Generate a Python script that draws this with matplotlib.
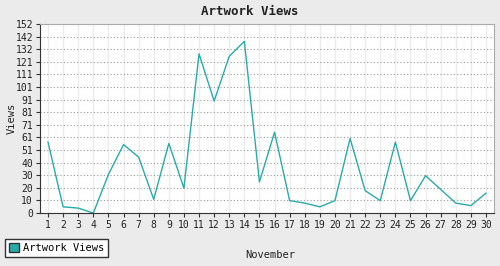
import matplotlib
matplotlib.use("Agg")
import matplotlib.pyplot as plt
from matplotlib.patches import Patch

days = list(range(1, 31))
views = [57, 5, 4, 0, 31, 55, 45, 11, 56, 20,
         128, 90, 126, 138, 25, 65, 10, 8, 5, 10,
         60, 18, 10, 57, 10, 30, 19, 8, 6, 16]
ymax = 152
ytick_labels = ["0", "10", "20", "30", "40", "51", "61", "71", "81", "91",
                "101", "111", "121", "132", "142", "152"]

line_color = "#2aabab"
bg = "#ebebeb"
plt.rcParams["font.family"] = "DejaVu Sans Mono"

fig = plt.figure(figsize=(5, 2.66), dpi=100, facecolor=bg)
ax = fig.add_axes([0.08, 0.199, 0.908, 0.711])
ax.set_facecolor("white")
ax.plot(days, views, color=line_color, linewidth=1.0)

yticks = [ymax * i / 15 for i in range(16)]
ax.set_yticks(yticks)
ax.set_yticklabels(ytick_labels, fontsize=7)
ax.set_xticks(days)
ax.set_xticklabels([str(d) for d in days], fontsize=7)
ax.set_xlim(0.47, 30.53)
ax.set_ylim(0, ymax)

ax.grid(axis="x", color="#ececec", linewidth=1, linestyle="-")
ax.grid(axis="y", color="#999999", linewidth=0.8, linestyle=(0, (1, 2)))
ax.set_axisbelow(True)

for s in ["top", "right"]:
    ax.spines[s].set_color("#aaaaaa")
for s in ["left", "bottom"]:
    ax.spines[s].set_color("#333333")
ax.tick_params(axis="both", length=3, width=0.8, color="#333333", pad=2, labelcolor="#222222")

fig.text(0.5, 0.955, "Artwork Views", ha="center", va="center", fontsize=9,
         fontweight="bold", color="#222222")
fig.text(0.024, 0.555, "Views", ha="center", va="center", rotation=90,
         fontsize=7.5, color="#222222")
fig.text(0.54, 0.04, "November", ha="center", va="center", fontsize=7.5, color="#222222")

handle = Patch(facecolor=line_color, edgecolor="#333333", label="Artwork Views")
fig.legend(handles=[handle], loc="lower left", bbox_to_anchor=(0.01, 0.034),
           borderaxespad=0, fontsize=7.5, frameon=True, fancybox=False,
           edgecolor="#333333", facecolor="white", framealpha=1,
           handlelength=0.9, handleheight=0.9, handletextpad=0.4, borderpad=0.4)

fig.savefig("out.png", dpi=100, facecolor=bg)
